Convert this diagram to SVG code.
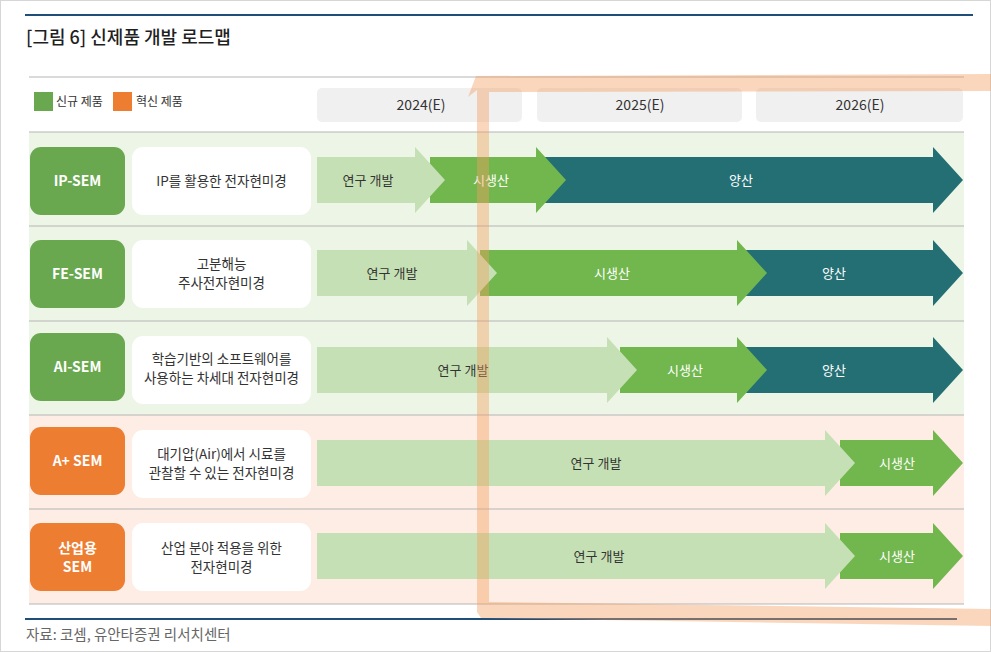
<svg xmlns="http://www.w3.org/2000/svg" width="991" height="652" viewBox="0 0 991 652">
<style>
text{font-family:"Noto Sans CJK KR","Noto Sans",sans-serif;}
.title{font-size:18px;fill:#1f1f1f;font-weight:500;}
.leg{font-size:12px;fill:#333;}
.yr{font-size:14px;fill:#333;text-anchor:middle;}
.nl{font-size:14px;fill:#fff;font-weight:700;text-anchor:middle;}
.desc{font-size:13.5px;fill:#333;text-anchor:middle;}
.al{font-size:13px;fill:#333;text-anchor:middle;}
.aw{font-size:13px;fill:#fff;text-anchor:middle;}
.foot{font-size:14.5px;fill:#666;}
.sep{stroke:#b5b5b5;stroke-width:1;}
.gbox{fill:#6aa84f;}
.obox{fill:#ed7d31;}
.wbox{fill:#fff;}
.light{fill:#c5e0b4;}
.green{fill:#72b74e;}
.teal{fill:#246f74;}
.ybox{fill:#f0f0f0;}
</style>
<rect x="0.5" y="0.5" width="990" height="651" fill="#fff" stroke="#d6d6d6"/>
<line x1="25" y1="15" x2="973" y2="15" stroke="#1f4e79" stroke-width="2"/>
<text class="title" x="26" y="44">[그림 6] 신제품 개발 로드맵</text>
<line class="sep" x1="29" y1="77" x2="964" y2="77"/>
<g id="legend">
<rect x="34" y="92" width="19" height="19" fill="#6aa84f"/>
<text class="leg" x="56" y="106">신규 제품</text>
<rect x="113" y="92" width="19" height="19" fill="#ed7d31"/>
<text class="leg" x="136" y="106">혁신 제품</text>
</g>
<g id="years">
<rect class="ybox" x="317" y="88" width="205" height="34" rx="5"/>
<text class="yr" x="421" y="110">2024(E)</text>
<rect class="ybox" x="537" y="88" width="205" height="34" rx="5"/>
<text class="yr" x="640" y="110">2025(E)</text>
<rect class="ybox" x="756" y="88" width="207" height="34" rx="5"/>
<text class="yr" x="860" y="110">2026(E)</text>
</g>
<g id="rows-bg">
<rect x="29" y="132" width="935" height="283" fill="#edf5e6"/>
<rect x="29" y="415" width="935" height="189" fill="#fdede4"/>
<line class="sep" x1="29" y1="132" x2="964" y2="132"/>
<line class="sep" x1="29" y1="226" x2="964" y2="226"/>
<line class="sep" x1="29" y1="321" x2="964" y2="321"/>
<line class="sep" x1="29" y1="415" x2="964" y2="415"/>
<line class="sep" x1="29" y1="509" x2="964" y2="509"/>
<line class="sep" x1="29" y1="604" x2="964" y2="604"/>
</g>
<g id="node-ip-sem">
<rect class="gbox" x="30" y="147" width="95" height="68" rx="11"/>
<text class="nl" x="77.5" y="186">IP-SEM</text>
<rect class="wbox" x="132" y="147" width="179" height="68" rx="11"/>
<text class="desc" x="221.5" y="186">IP를 활용한 전자현미경</text>
</g>
<g id="node-fe-sem">
<rect class="gbox" x="30" y="240" width="95" height="68" rx="11"/>
<text class="nl" x="77.5" y="279">FE-SEM</text>
<rect class="wbox" x="132" y="240" width="179" height="68" rx="11"/>
<text class="desc" x="221.5" y="269">고분해능</text>
<text class="desc" x="221.5" y="288">주사전자현미경</text>
</g>
<g id="node-ai-sem">
<rect class="gbox" x="30" y="333" width="95" height="68" rx="11"/>
<text class="nl" x="77.5" y="372">AI-SEM</text>
<rect class="wbox" x="132" y="336" width="179" height="68" rx="11"/>
<text class="desc" x="221.5" y="364">학습기반의 소프트웨어를</text>
<text class="desc" x="221.5" y="383">사용하는 차세대 전자현미경</text>
</g>
<g id="node-a-plus-sem">
<rect class="obox" x="30" y="427" width="95" height="68" rx="11"/>
<text class="nl" x="77.5" y="466">A+ SEM</text>
<rect class="wbox" x="132" y="430" width="179" height="68" rx="11"/>
<text class="desc" x="221.5" y="459">대기압(Air)에서 시료를</text>
<text class="desc" x="221.5" y="478">관찰할 수 있는 전자현미경</text>
</g>
<g id="node-industrial-sem">
<rect class="obox" x="30" y="523" width="95" height="68" rx="11"/>
<text class="nl" x="77.5" y="553">산업용</text>
<text class="nl" x="77.5" y="572">SEM</text>
<rect class="wbox" x="132" y="523" width="179" height="68" rx="11"/>
<text class="desc" x="221.5" y="553">산업 분야 적용을 위한</text>
<text class="desc" x="221.5" y="572">전자현미경</text>
</g>
<g id="connectors">
<g id="row1-arrows">
<path class="teal" d="M530 157H933V147L963 180L933 213V203H530Z"/>
<path class="green" d="M430 157H536V147L566 180L536 213V203H430Z"/>
<path class="light" d="M317 157H415V147L445 180L415 213V203H317Z"/>
<text class="al" x="368" y="185">연구 개발</text>
<text class="aw" x="491" y="185">시생산</text>
<text class="aw" x="741" y="185">양산</text>
</g>
<g id="row2-arrows">
<path class="teal" d="M740 250H933V240L963 273L933 306V296H740Z"/>
<path class="green" d="M480 250H737V240L767 273L737 306V296H480Z"/>
<path class="light" d="M317 250H467V240L497 273L467 306V296H317Z"/>
<text class="al" x="392" y="278">연구 개발</text>
<text class="aw" x="612" y="278">시생산</text>
<text class="aw" x="834" y="278">양산</text>
</g>
<g id="row3-arrows">
<path class="teal" d="M740 347H933V337L963 370L933 403V393H740Z"/>
<path class="green" d="M620 347H737V337L767 370L737 403V393H620Z"/>
<path class="light" d="M317 347H607V337L637 370L607 403V393H317Z"/>
<text class="al" x="463" y="375">연구 개발</text>
<text class="aw" x="685" y="375">시생산</text>
<text class="aw" x="834" y="375">양산</text>
</g>
<g id="row4-arrows">
<path class="green" d="M840 440H933V430L963 463L933 496V486H840Z"/>
<path class="light" d="M317 440H825V430L855 463L825 496V486H317Z"/>
<text class="al" x="596" y="468">연구 개발</text>
<text class="aw" x="897" y="468">시생산</text>
</g>
<g id="row5-arrows">
<path class="green" d="M840 533H933V523L963 556L933 589V579H840Z"/>
<path class="light" d="M317 533H825V523L855 556L825 589V579H317Z"/>
<text class="al" x="599" y="561">연구 개발</text>
<text class="aw" x="897" y="561">시생산</text>
</g>
</g>
<line x1="25" y1="619" x2="957" y2="619" stroke="#1f4e79" stroke-width="2"/>
<text class="foot" x="26" y="640">자료: 코셈, 유안타증권 리서치센터</text>
<path d="M991 74L476 76L468 97L477 90L477 612L481 618L991 626L991 609L489 602L489 92L991 91Z" fill="#f4a060" fill-opacity="0.42"/>
</svg>
